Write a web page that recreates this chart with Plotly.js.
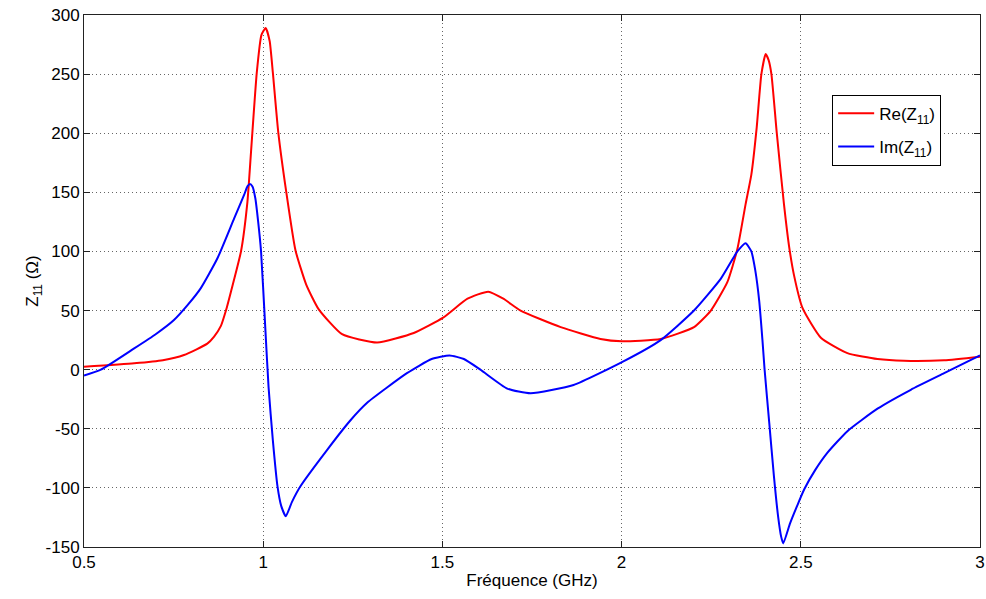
<!DOCTYPE html>
<html>
<head>
<meta charset="utf-8">
<script src="https://cdn.plot.ly/plotly-3.0.1.min.js"></script>
<style>html,body{margin:0;padding:0;background:#fff;}#chart{width:986px;height:599px;}</style>
</head>
<body>
<div id="chart"></div>
<script>
// Re(Z11)
const reFreq = [0.5,0.64,0.72,0.779,0.844,0.863,0.882,0.896,0.91,0.938,0.956,0.966,0.982,0.995,1.007,1.018,1.027,1.042,1.064,1.09,1.12,1.155,1.22,1.318,1.42,1.502,1.57,1.628,1.67,1.718,1.83,1.941,2.0,2.109,2.202,2.249,2.295,2.323,2.346,2.362,2.377,2.39,2.402,2.41,2.418,2.433,2.453,2.467,2.481,2.505,2.556,2.63,2.714,2.788,2.9,3.0];
const reVal  = [2.5,5.4,8,12.4,22,28,37,50,66,100,142,184,251,283,289,278,251,201,151,101,72,51,30,23,31,44,60,66,60,50,36,26,24,26,36,50,74,102,140,165,205,250,267,262,250,200,140,105,80,52,27,14,9,7.5,8,11];
// Im(Z11)
const imFreq = [0.5,0.547,0.64,0.70,0.751,0.79,0.826,0.872,0.919,0.947,0.956,0.963,0.970,0.978,0.986,0.994,1.005,1.015,1.027,1.04,1.05,1.063,1.08,1.103,1.178,1.243,1.29,1.401,1.47,1.52,1.56,1.606,1.681,1.746,1.866,2.005,2.109,2.202,2.277,2.323,2.346,2.362,2.373,2.384,2.393,2.399,2.412,2.425,2.437,2.445,2.451,2.47,2.49,2.51,2.54,2.575,2.63,2.714,2.807,2.9,3.0];
const imVal  = [-5,0,18,30,42,55,69,94,128,148,155,157,155,145,125,100,40,-15,-60,-99,-115,-124,-112,-99,-68,-43,-28,-3,9,12,9,0,-16,-20,-13,7,25,50,77,100,107,100,84,58,25,0,-45,-90,-125,-141,-147,-130,-115,-101,-85,-70,-52,-33,-17,-3,12];
const xTicks = [0.5,1,1.5,2,2.5,3];
const yTicks = [-150,-100,-50,0,50,100,150,200,250,300];

const traces = [
  {x: reFreq, y: reVal, type:'scatter', mode:'lines', name:'Re(Z<sub>11</sub>)', legendgroup:'re',
   line:{color:'#ff0000', width:2, shape:'spline', smoothing:0.5}},
  {x: imFreq, y: imVal, type:'scatter', mode:'lines', name:'Im(Z<sub>11</sub>)', legendgroup:'im',
   line:{color:'#0000ff', width:2, shape:'spline', smoothing:0.5}}
];
const axisCommon = {
  showline:true, linecolor:'#222', linewidth:1, mirror:'ticks',
  ticks:'inside', ticklen:6, tickcolor:'#222',
  showgrid:true, gridcolor:'#666', griddash:'1px,3px', gridwidth:1,
  zeroline:false, tickfont:{family:'Liberation Sans, Arial, sans-serif', size:17, color:'#000'}
};
const layout = {
  width:986, height:599,
  margin:{l:84, r:6, t:15, b:52},
  paper_bgcolor:'#fff', plot_bgcolor:'#fff',
  font:{family:'Liberation Sans, Arial, sans-serif', color:'#000'},
  showlegend:true,
  legend:{x:0.835, y:0.85, xanchor:'left', yanchor:'top', bgcolor:'#fff',
          bordercolor:'#000', borderwidth:1, font:{size:17}, itemwidth:36,
          traceorder:'grouped', tracegroupgap:8},
  xaxis:Object.assign({}, axisCommon, {range:[0.5,3], tickvals:xTicks, ticktext:xTicks.map(String),
          title:{text:'Fréquence (GHz)', font:{size:17}, standoff:2}}),
  yaxis:Object.assign({}, axisCommon, {range:[-150,300], tickvals:yTicks, ticktext:yTicks.map(String),
          title:{text:'Z<sub>11</sub> (Ω)', font:{size:17}, standoff:2}})
};
Plotly.newPlot('chart', traces, layout, {displayModeBar:false, staticPlot:true});
</script>
</body>
</html>
